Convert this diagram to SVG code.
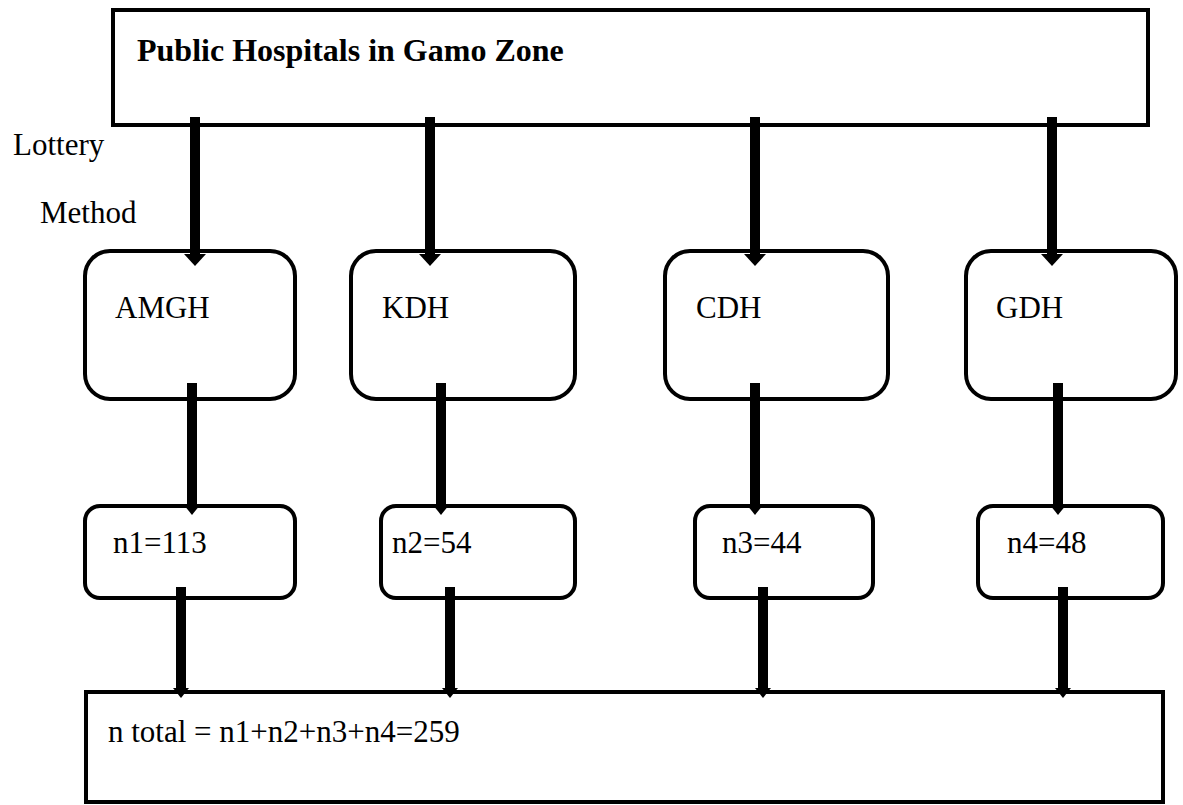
<svg xmlns="http://www.w3.org/2000/svg" width="1183" height="805" viewBox="0 0 1183 805">
<style>
.box{fill:#fff;stroke:#000;stroke-width:4}
.t{font-family:"Liberation Serif","Times New Roman",serif;font-size:31px;fill:#000}
.b{font-weight:bold;font-size:32px}
.c{stroke:#000;stroke-width:10;fill:none}
</style>
<defs>
<marker id="ah" markerUnits="userSpaceOnUse" viewBox="0 0 12 22" markerWidth="12" markerHeight="22" refX="0" refY="11" orient="auto"><path d="M0,0 L12,11 L0,22 Z" fill="#000"/></marker>
<marker id="ah2" markerUnits="userSpaceOnUse" viewBox="0 0 10 16" markerWidth="10" markerHeight="16" refX="0" refY="8" orient="auto"><path d="M0,0 L10,8 L0,16 Z" fill="#000"/></marker>
</defs>
<rect width="1183" height="805" fill="#fff"/>
<g id="top"><rect class="box" x="113" y="10" width="1035" height="115"/><text class="t b" x="137" y="61">Public Hospitals in Gamo Zone</text></g>
<g id="lottery"><text class="t" x="13" y="155">Lottery</text><text class="t" x="40" y="223">Method</text></g>
<g id="amgh"><rect class="box" x="85" y="251" width="210" height="148" rx="25"/><text class="t" x="115" y="318">AMGH</text></g>
<g id="kdh"><rect class="box" x="351" y="251" width="224" height="148" rx="25"/><text class="t" x="382" y="318">KDH</text></g>
<g id="cdh"><rect class="box" x="665" y="251" width="223" height="148" rx="25"/><text class="t" x="696" y="318">CDH</text></g>
<g id="gdh"><rect class="box" x="966" y="251" width="210" height="148" rx="25"/><text class="t" x="996" y="318">GDH</text></g>
<g id="n1"><rect class="box" x="85" y="506" width="210" height="92" rx="15"/><text class="t" x="113" y="553">n1=113</text></g>
<g id="n2"><rect class="box" x="381" y="506" width="194" height="92" rx="15"/><text class="t" x="392" y="553">n2=54</text></g>
<g id="n3"><rect class="box" x="695" y="506" width="178" height="92" rx="15"/><text class="t" x="722" y="553">n3=44</text></g>
<g id="n4"><rect class="box" x="978" y="506" width="185" height="92" rx="15"/><text class="t" x="1007" y="553">n4=48</text></g>
<g id="total"><rect class="box" x="86" y="692" width="1077" height="110"/><text class="t" x="108" y="742">n total = n1+n2+n3+n4=259</text></g>
<g id="connectors">
<line class="c" x1="195" y1="117" x2="195" y2="254" marker-end="url(#ah)"/>
<line class="c" x1="430" y1="117" x2="430" y2="254" marker-end="url(#ah)"/>
<line class="c" x1="755" y1="117" x2="755" y2="254" marker-end="url(#ah)"/>
<line class="c" x1="1052" y1="117" x2="1052" y2="254" marker-end="url(#ah)"/>
<line class="c" x1="192" y1="383" x2="192" y2="505" marker-end="url(#ah2)"/>
<line class="c" x1="441" y1="383" x2="441" y2="505" marker-end="url(#ah2)"/>
<line class="c" x1="755" y1="383" x2="755" y2="505" marker-end="url(#ah2)"/>
<line class="c" x1="1058" y1="383" x2="1058" y2="505" marker-end="url(#ah2)"/>
<line class="c" x1="181" y1="587" x2="181" y2="688" marker-end="url(#ah2)"/>
<line class="c" x1="450" y1="587" x2="450" y2="688" marker-end="url(#ah2)"/>
<line class="c" x1="763" y1="587" x2="763" y2="688" marker-end="url(#ah2)"/>
<line class="c" x1="1063" y1="587" x2="1063" y2="688" marker-end="url(#ah2)"/>
</g>
</svg>
